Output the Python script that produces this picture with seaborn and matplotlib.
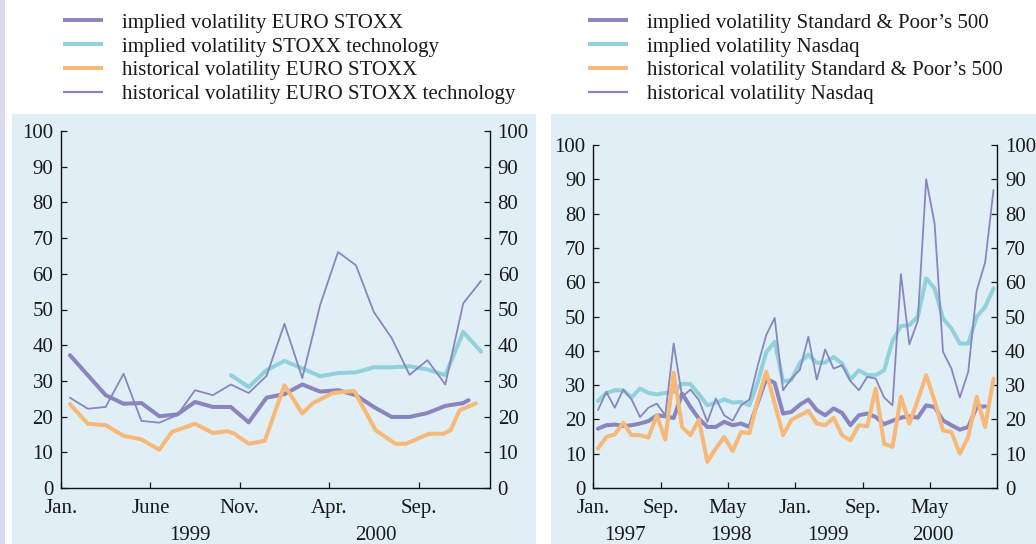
import numpy as np
import pandas as pd
import matplotlib
matplotlib.use("Agg")
import matplotlib.pyplot as plt
import seaborn as sns
from matplotlib.patches import Rectangle
from matplotlib.transforms import blended_transform_factory

# ---------------- data ----------------
# Left panel: months since Jan 1999
L_months_hist_tech = [0.5, 1.5, 2.5, 3.5, 4.5, 5.5, 6.5, 7.5, 8.5, 9.5, 10.5, 11.5,
                      12.5, 13.5, 14.5, 15.5, 16.5, 17.5, 18.5, 19.5, 20.5, 21.5, 22.5, 23.5]
L_hist_tech = [25.3, 22.2, 22.7, 32.0, 18.8, 18.3, 20.4, 27.4, 26.0, 29.0, 26.6, 31.4,
               46.0, 30.8, 51.3, 66.1, 62.4, 49.3, 42.0, 31.7, 35.8, 29.0, 51.7, 58.0]

L_months_impl_es = [0.5, 1.5, 2.5, 3.5, 4.5, 5.5, 6.5, 7.5, 8.5, 9.5, 10.5, 11.5,
                    12.5, 13.5, 14.5, 15.5, 16.5, 17.5, 18.5, 19.5, 20.5, 21.5, 22.5, 22.8]
L_impl_es = [37.2, 31.6, 26.0, 23.6, 23.8, 20.1, 20.6, 24.1, 22.7, 22.7, 18.4, 25.3,
             26.3, 29.0, 27.0, 27.4, 26.0, 22.7, 19.9, 19.9, 21.0, 23.0, 23.8, 24.6]

L_months_impl_tech = [9.5, 10.5, 11.5, 12.5, 13.5, 14.5, 15.5, 16.5, 17.5, 18.5, 19.5,
                      20.5, 21.5, 22.5, 23.5]
L_impl_tech = [31.6, 28.3, 33.0, 35.6, 33.5, 31.3, 32.2, 32.4, 33.8, 33.8, 34.1,
               33.2, 31.6, 43.7, 38.2]

L_months_hist_es = [0.5, 1.5, 2.5, 3.5, 4.5, 5.5, 6.2, 7.5, 8.5, 9.3, 9.7, 10.5, 11.4,
                    12.5, 13.5, 14.1, 15.2, 16.4, 17.6, 18.7, 19.3, 20.6, 21.4, 21.8, 22.3, 23.2]
L_hist_es = [23.5, 18.0, 17.6, 14.6, 13.6, 10.7, 15.7, 18.0, 15.4, 15.9, 15.2, 12.4, 13.2,
             28.8, 20.9, 23.8, 26.6, 27.2, 16.2, 12.4, 12.4, 15.2, 15.2, 16.2, 21.8, 23.7]

L_tick_pos = [0, 5, 10, 15, 20]
L_tick_labels = ["Jan.", "June", "Nov.", "Apr.", "Sep."]
L_years = ["1999", "2000"]
L_year_pos = [7.2, 17.6]

# Right panel: months since Jan 1997
R_months = list(np.arange(48) + 0.55)
R_hist_nasdaq = [22.7, 28.0, 23.4, 28.7, 25.8, 20.7, 23.4, 24.6, 21.2, 42.1,
                 26.6, 28.7, 25.6, 19.3, 26.1, 21.2, 19.6, 24.1, 25.8, 35.8,
                 44.6, 49.6, 28.5, 31.9, 34.5, 44.1, 31.6, 40.4, 34.8, 35.8,
                 31.2, 28.5, 32.4, 31.9, 26.4, 24.1, 62.4, 41.9, 48.7, 90.0,
                 77.1, 39.7, 34.8, 26.4, 33.9, 57.5, 65.7, 86.9]
R_impl_nasdaq = [25.4, 27.7, 28.5, 28.5, 26.4, 29.0, 27.7, 27.3, 27.7, 28.0,
                 30.4, 30.3, 27.3, 24.1, 24.8, 25.8, 24.9, 25.1, 24.1, 31.0,
                 39.6, 42.6, 31.0, 31.5, 36.5, 38.9, 36.5, 36.6, 38.2, 36.3,
                 31.6, 34.3, 32.9, 32.9, 34.3, 42.9, 47.2, 47.5, 49.9, 61.1,
                 58.2, 49.4, 46.5, 42.1, 42.1, 49.9, 52.8, 58.2]
R_impl_sp = [17.3, 18.3, 18.5, 18.1, 18.3, 18.8, 19.5, 21.2, 20.9, 20.4,
             27.5, 23.6, 20.2, 17.8, 17.8, 19.3, 18.3, 18.8, 17.8, 25.0,
             31.9, 30.6, 21.7, 22.2, 24.3, 25.8, 22.7, 21.2, 23.2, 21.9,
             18.3, 21.2, 21.7, 20.7, 18.6, 19.6, 20.5, 20.9, 20.5, 24.1,
             23.6, 19.7, 18.3, 17.0, 17.8, 23.6, 23.8]
R_hist_sp = [11.5, 14.9, 15.6, 19.0, 15.4, 15.4, 14.7, 21.2, 14.1, 33.6,
             17.8, 15.4, 19.9, 7.6, 11.5, 14.9, 10.8, 16.3, 16.0, 25.6,
             33.9, 24.6, 15.4, 19.9, 21.2, 22.5, 18.8, 18.3, 20.5, 15.4,
             13.9, 18.3, 18.0, 29.0, 12.9, 12.0, 26.6, 18.8, 25.6, 32.9,
             25.4, 16.8, 16.3, 10.0, 14.9, 26.6, 17.8, 31.9]

R_tick_pos = [0, 8, 16, 24, 32, 40]
R_tick_labels = ["Jan.", "Sep.", "May", "Jan.", "Sep.", "May"]
R_years = ["1997", "1998", "1999", "2000"]
R_year_pos = [3.8, 16.4, 27.9, 40.4]

L_labels = ["implied volatility EURO STOXX", "implied volatility STOXX technology",
            "historical volatility EURO STOXX", "historical volatility EURO STOXX technology"]
R_labels = ["implied volatility Standard & Poor\u2019s 500", "implied volatility Nasdaq",
            "historical volatility Standard & Poor\u2019s 500", "historical volatility Nasdaq"]

# ---------------- style ----------------
sns.set_style("ticks")
plt.rcParams["font.family"] = ["Liberation Serif", "DejaVu Serif"]
plt.rcParams["axes.linewidth"] = 1.0

PURPLE = "#8a85be"
CYAN = "#90d1dc"
ORANGE = "#f7b878"
BG = "#e0eff5"
TXT = "#1a1a1a"
FS = 15

W, H = 1036, 544
fig = plt.figure(figsize=(W / 100, H / 100), dpi=100)
fig.patch.set_facecolor("white")


def box(x0, y0, x1, y1):
    return [x0 / W, 1 - y1 / H, (x1 - x0) / W, (y1 - y0) / H]


fig.patches.append(Rectangle((0, 0), 5 / W, 1, transform=fig.transFigure,
                             facecolor="#dcdaee", edgecolor="none", zorder=-10))
for (x0, x1) in [(12, 536), (551, 1036)]:
    fig.patches.append(Rectangle((x0 / W, 0), (x1 - x0) / W, 1 - 114 / H,
                                 transform=fig.transFigure, facecolor=BG,
                                 edgecolor="none", zorder=-10))

axL = fig.add_axes(box(61, 131, 490, 488))
axR = fig.add_axes(box(593.3, 145, 997.3, 488))
axL.set_zorder(2)
axR.set_zorder(2)

THICK = 2.9
THIN = 1.3

# left panel
sns.lineplot(x=L_months_impl_tech, y=L_impl_tech, ax=axL, color=CYAN, linewidth=THICK,
             label=L_labels[1], legend=False)
sns.lineplot(x=L_months_impl_es, y=L_impl_es, ax=axL, color=PURPLE, linewidth=THICK,
             label=L_labels[0], legend=False)
sns.lineplot(x=L_months_hist_tech, y=L_hist_tech, ax=axL, color=PURPLE, linewidth=THIN,
             label=L_labels[3], legend=False)
sns.lineplot(x=L_months_hist_es, y=L_hist_es, ax=axL, color=ORANGE, linewidth=THICK,
             label=L_labels[2], legend=False)

# right panel
sns.lineplot(x=R_months, y=R_impl_nasdaq, ax=axR, color=CYAN, linewidth=THICK,
             label=R_labels[1], legend=False)
sns.lineplot(x=R_months[:len(R_impl_sp)], y=R_impl_sp, ax=axR, color=PURPLE, linewidth=THICK,
             label=R_labels[0], legend=False)
sns.lineplot(x=R_months, y=R_hist_nasdaq, ax=axR, color=PURPLE, linewidth=THIN,
             label=R_labels[3], legend=False)
sns.lineplot(x=R_months, y=R_hist_sp, ax=axR, color=ORANGE, linewidth=THICK,
             label=R_labels[2], legend=False)

for ax, xmax, tpos, tlab, ypos, ylab in [
        (axL, 24, L_tick_pos, L_tick_labels, L_year_pos, L_years),
        (axR, 48, R_tick_pos, R_tick_labels, R_year_pos, R_years)]:
    ax.set_facecolor("none")
    ax.set_xlim(0, xmax)
    ax.set_ylim(0, 100)
    ax.set_yticks(range(0, 101, 10))
    ax.set_xticks(tpos)
    ax.set_xticklabels(tlab)
    ax.set_xlabel("")
    ax.set_ylabel("")
    ax.spines["top"].set_visible(False)
    for s in ["left", "right", "bottom"]:
        ax.spines[s].set_visible(True)
        ax.spines[s].set_color("#111111")
        ax.spines[s].set_linewidth(1.0)
    ax.tick_params(axis="y", direction="in", length=4, width=0.9, left=True, right=True,
                   labelleft=True, labelright=True, labelsize=FS, pad=5.5, colors=TXT)
    ax.tick_params(axis="x", direction="in", length=4, width=0.9, labelsize=FS, pad=8,
                   colors=TXT)
    tr = blended_transform_factory(ax.transData, fig.transFigure)
    for p, t in zip(ypos, ylab):
        ax.text(p, 1 - 536 / H, t, transform=tr, ha="center", va="center",
                fontsize=FS, color=TXT, clip_on=False)

# legends
thin_labels = {L_labels[3], R_labels[3]}
for ax, labels, x0 in [(axL, L_labels, 63), (axR, R_labels, 588)]:
    handles, labs = ax.get_legend_handles_labels()
    order = [labs.index(l) for l in labels]
    leg = fig.legend([handles[i] for i in order], [labs[i] for i in order],
                     loc="upper left", bbox_to_anchor=(x0 / W, 1 - 13 / H),
                     frameon=False, fontsize=FS, handlelength=1.9, handletextpad=0.95,
                     labelspacing=0.21, borderpad=0, borderaxespad=0)
    for line, lab in zip(leg.get_lines(), labels):
        line.set_linewidth(1.6 if lab in thin_labels else 2.8)
        line.set_solid_capstyle("butt")
    for t in leg.get_texts():
        t.set_color(TXT)

fig.savefig("out.png", dpi=100, facecolor="white")
